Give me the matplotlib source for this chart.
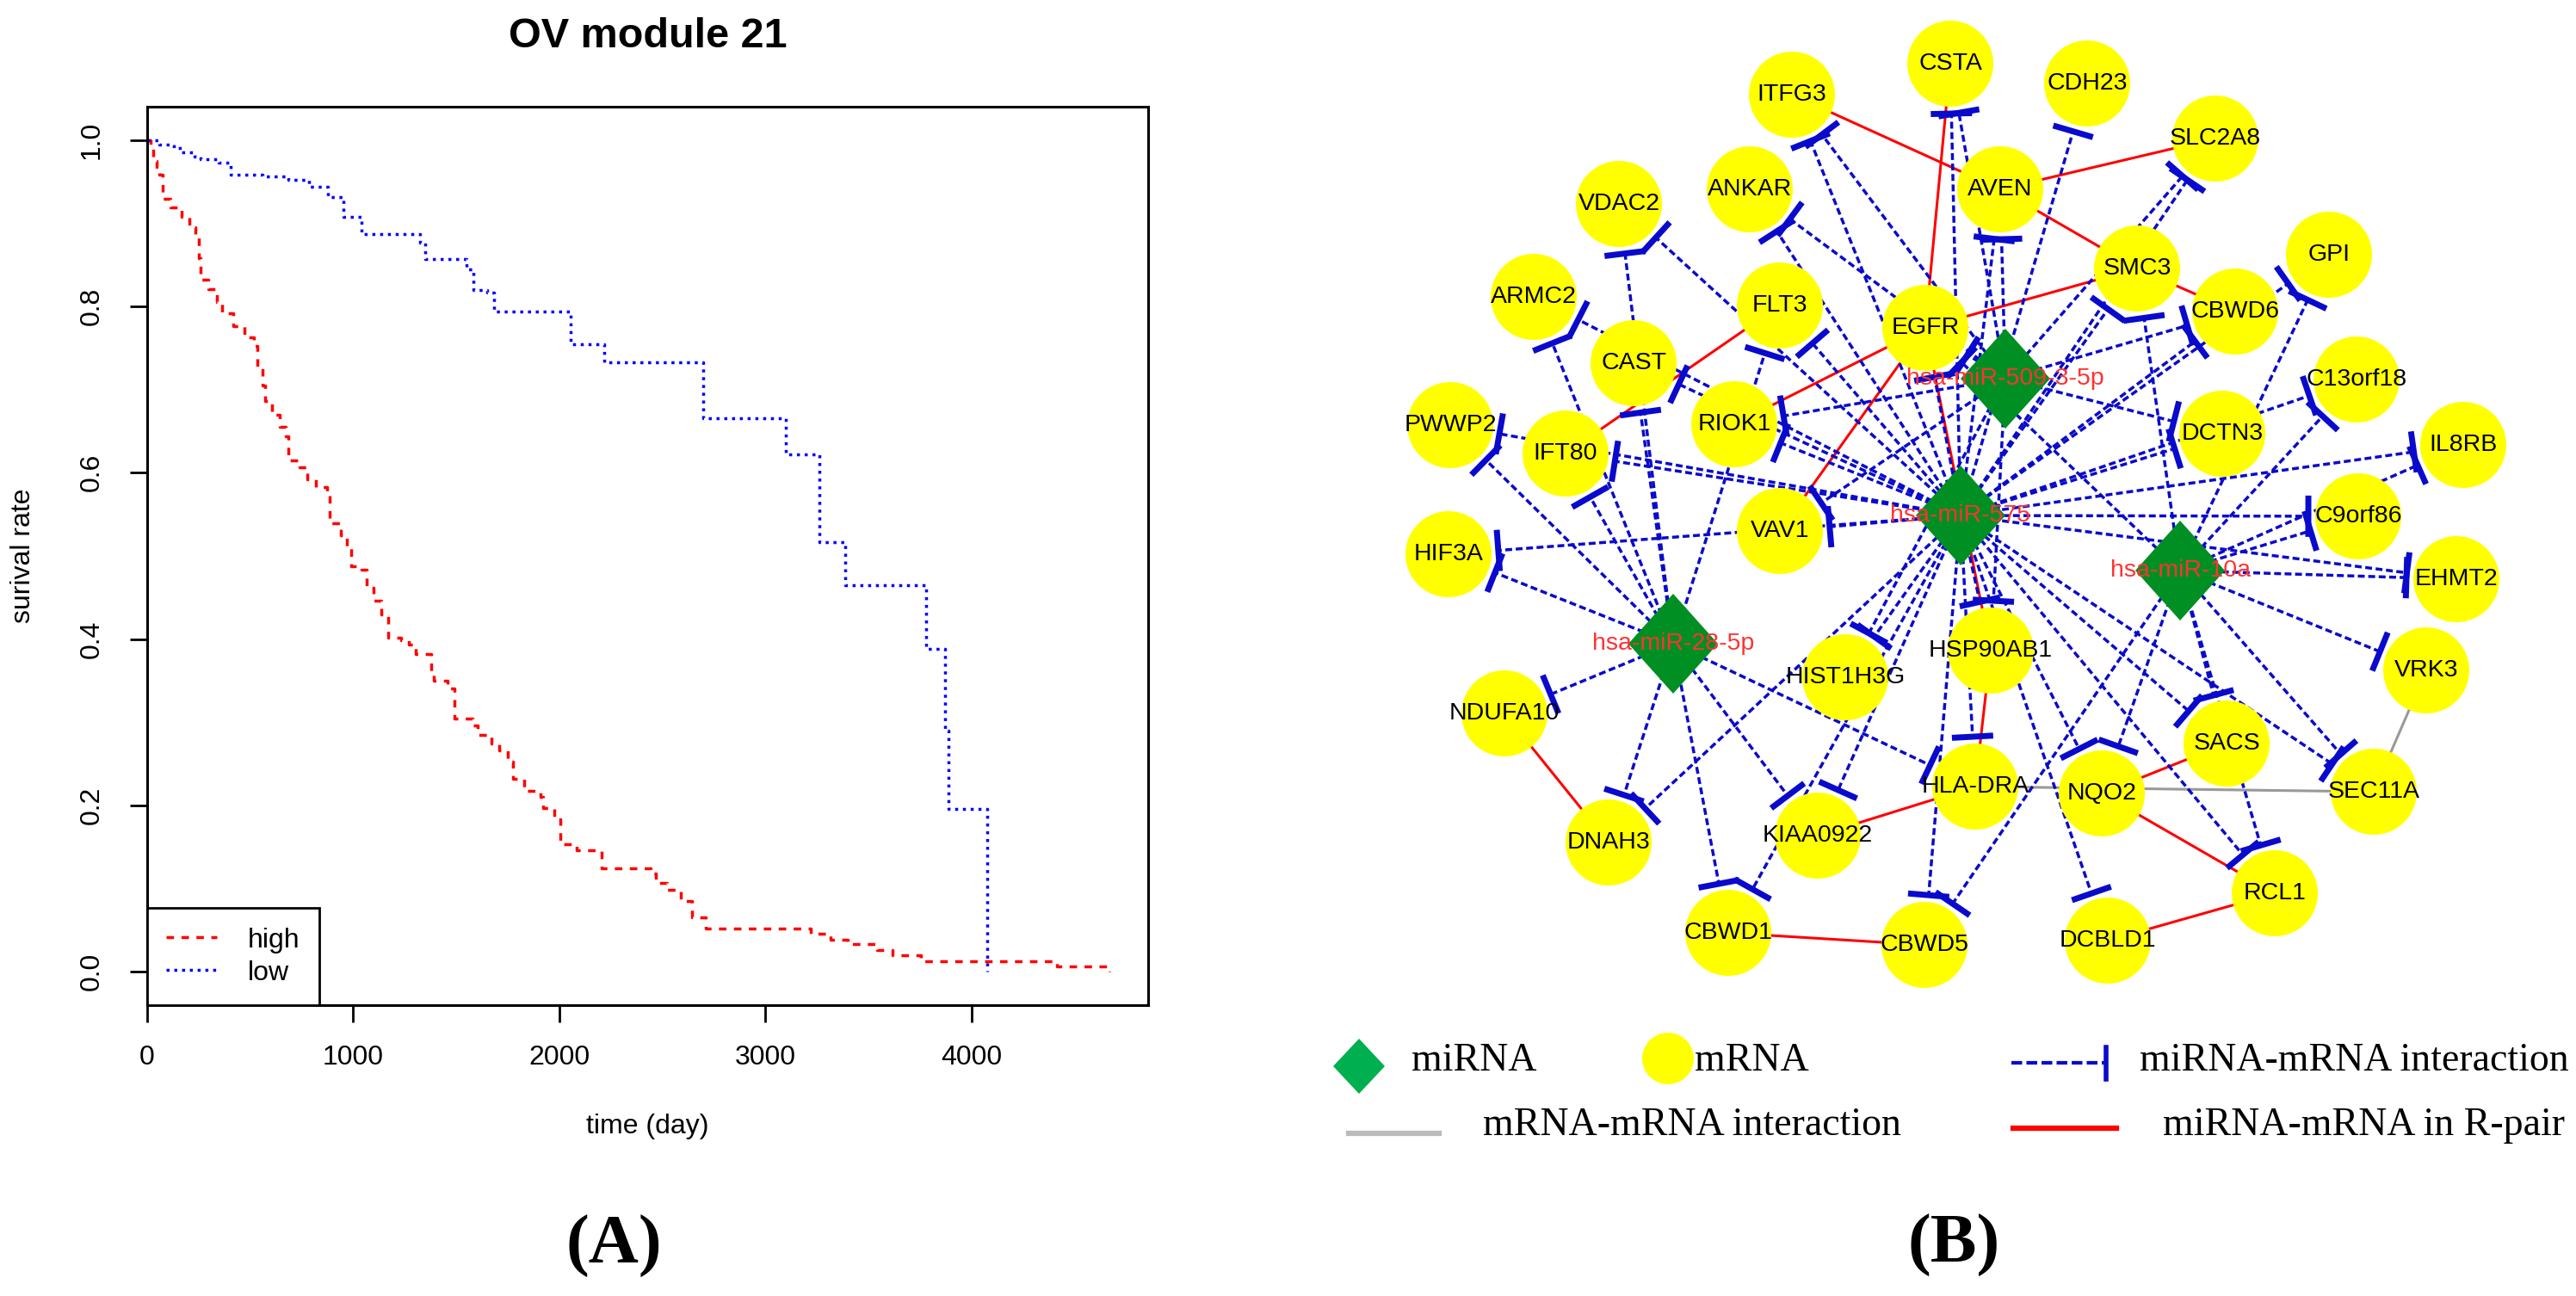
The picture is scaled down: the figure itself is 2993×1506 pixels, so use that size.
import numpy as np
import matplotlib.pyplot as plt
from matplotlib.patches import Circle, Polygon

# ---------------- panel A: survival curves ----------------
high_time = [0, 15, 30, 45, 58, 77, 112, 165, 205, 232, 250, 258, 298, 338, 365,
             418, 471, 516, 533, 560, 572, 604, 644, 671, 684, 738, 778, 818, 871,
             884, 938, 969, 991, 1039, 1066, 1098, 1137, 1169, 1231, 1270, 1305,
             1377, 1390, 1457, 1492, 1577, 1604, 1670, 1710, 1750, 1777, 1830,
             1910, 1923, 1977, 2003, 2083, 2203, 2443, 2470, 2523, 2589, 2643,
             2709, 3220, 3316, 3401, 3541, 3616, 3754, 4414, 4668]
high_surv = [1.0, 0.990, 0.975, 0.965, 0.958, 0.929, 0.919, 0.908, 0.895, 0.885,
             0.858, 0.832, 0.821, 0.805, 0.792, 0.776, 0.763, 0.752, 0.726, 0.705,
             0.686, 0.670, 0.655, 0.644, 0.615, 0.607, 0.592, 0.583, 0.573, 0.539,
             0.525, 0.509, 0.488, 0.483, 0.462, 0.446, 0.430, 0.402, 0.399, 0.393,
             0.382, 0.358, 0.350, 0.341, 0.304, 0.296, 0.285, 0.275, 0.266, 0.253,
             0.232, 0.218, 0.210, 0.197, 0.183, 0.153, 0.146, 0.125, 0.118, 0.107,
             0.099, 0.085, 0.066, 0.052, 0.046, 0.039, 0.033, 0.026, 0.020, 0.013,
             0.0065, 0.0]
low_time = [0, 60, 130, 165, 230, 258, 346, 404, 559, 684, 786, 879, 952, 1039,
            1324, 1350, 1551, 1582, 1651, 1684, 2056, 2216, 2696, 3100, 3260, 3388,
            3779, 3870, 3887, 4075]
low_surv = [1.0, 0.995, 0.990, 0.985, 0.980, 0.977, 0.973, 0.958, 0.956, 0.952,
            0.944, 0.931, 0.908, 0.887, 0.877, 0.857, 0.845, 0.820, 0.817, 0.794,
            0.755, 0.733, 0.666, 0.622, 0.517, 0.465, 0.388, 0.290, 0.196, 0.0]
x_ticks = [0, 1000, 2000, 3000, 4000]
y_ticks = [0.0, 0.2, 0.4, 0.6, 0.8, 1.0]
y_tick_labels = ["0.0", "0.2", "0.4", "0.6", "0.8", "1.0"]

# ---------------- panel B: network (layout) ----------------
mirna_names = ["hsa-miR-575", "hsa-miR-509-3-5p", "hsa-miR-10a", "hsa-miR-28-5p"]
mirna_x = [2278, 2330, 2533, 1944]
mirna_y = [599, 440, 663, 748]

mrna_names = ["CSTA", "CDH23", "ITFG3", "SLC2A8", "AVEN", "ANKAR", "VDAC2", "SMC3",
              "GPI", "ARMC2", "FLT3", "EGFR", "CBWD6", "CAST", "C13orf18", "PWWP2",
              "RIOK1", "DCTN3", "IFT80", "IL8RB", "VAV1", "C9orf86", "HIF3A", "EHMT2",
              "HSP90AB1", "HIST1H3G", "VRK3", "NDUFA10", "SACS", "HLA-DRA", "NQO2",
              "SEC11A", "DNAH3", "KIAA0922", "RCL1", "CBWD1", "CBWD5", "DCBLD1"]
mrna_x = [2266, 2425, 2082, 2574, 2324, 2033, 1881, 2483, 2706, 1782, 2068, 2237,
          2597, 1898, 2738, 1685, 2015, 2582, 1819, 2862, 2068, 2740, 1683, 2854,
          2313, 2144, 2819, 1748, 2587, 2295, 2442, 2758, 1869, 2112, 2643, 2008,
          2236, 2449]
mrna_y = [74, 97, 110, 161, 220, 220, 237, 312, 296, 345, 355, 381, 362, 422, 441,
          494, 493, 504, 527, 517, 617, 600, 644, 673, 756, 787, 779, 829, 864, 914,
          922, 920, 979, 971, 1038, 1084, 1098, 1093]

targets_575 = ["CSTA", "CDH23", "ITFG3", "AVEN", "ANKAR", "VDAC2", "ARMC2", "FLT3",
               "EGFR", "SMC3", "SLC2A8", "CBWD6", "GPI", "C13orf18", "DCTN3", "IL8RB",
               "C9orf86", "EHMT2", "SEC11A", "SACS", "RCL1", "NQO2", "DCBLD1",
               "HLA-DRA", "HSP90AB1", "HIST1H3G", "KIAA0922", "CBWD1", "CBWD5",
               "DNAH3", "HIF3A", "PWWP2", "IFT80", "CAST", "RIOK1", "VAV1"]
targets_509 = ["CSTA", "ITFG3", "AVEN", "ANKAR", "EGFR", "SLC2A8", "CBWD6", "DCTN3",
               "RIOK1", "VAV1", "HSP90AB1", "HIST1H3G"]
targets_10a = ["SMC3", "GPI", "C13orf18", "IL8RB", "C9orf86", "EHMT2", "VRK3",
               "SEC11A", "SACS", "RCL1", "NQO2", "CBWD5", "EGFR"]
targets_28 = ["VDAC2", "ARMC2", "FLT3", "CAST", "PWWP2", "IFT80", "HIF3A", "NDUFA10",
              "DNAH3", "CBWD1", "KIAA0922", "HLA-DRA"]
rpair_edges = [("ITFG3", "AVEN"), ("AVEN", "SLC2A8"), ("AVEN", "SMC3"),
               ("SMC3", "CBWD6"), ("EGFR", "SMC3"), ("CSTA", "EGFR"),
               ("FLT3", "IFT80"), ("RIOK1", "EGFR"), ("VAV1", "EGFR"),
               ("EGFR", "HSP90AB1"), ("HSP90AB1", "HLA-DRA"), ("NDUFA10", "DNAH3"),
               ("KIAA0922", "HLA-DRA"), ("CBWD1", "CBWD5"), ("SACS", "NQO2"),
               ("NQO2", "RCL1"), ("RCL1", "DCBLD1")]
ppi_edges = [("HLA-DRA", "SEC11A"), ("VRK3", "SEC11A")]

plt.rcParams['font.family'] = ['Liberation Sans', 'DejaVu Sans']
BLUE = '#0A0ACC'
SERIF = ['Liberation Serif', 'DejaVu Serif']

fig = plt.figure(figsize=(29.93, 15.06), dpi=100)

# network drawn in figure pixel units
axb = fig.add_axes([0, 0, 1, 1])
axb.set_xlim(0, 2993)
axb.set_ylim(1506, 0)
axb.axis('off')

pos = {n: (x, y) for n, x, y in zip(mrna_names, mrna_x, mrna_y)}
pos.update({n: (x, y) for n, x, y in zip(mirna_names, mirna_x, mirna_y)})
R = 50

for a, b in ppi_edges:
    axb.plot([pos[a][0], pos[b][0]], [pos[a][1], pos[b][1]], color='#999999',
             lw=2.2, zorder=1)
for a, b in rpair_edges:
    axb.plot([pos[a][0], pos[b][0]], [pos[a][1], pos[b][1]], color='#FF0000',
             lw=2.2, zorder=1)

all_targets = [targets_575, targets_509, targets_10a, targets_28]
for mi, tlist in zip(mirna_names, all_targets):
    mx, my = pos[mi]
    for t in tlist:
        tx, ty = pos[t]
        d = np.hypot(mx - tx, my - ty)
        ux, uy = (mx - tx) / d, (my - ty) / d
        bx, by = tx + ux * (R + 8), ty + uy * (R + 8)
        axb.plot([mx, bx], [my, by], color=BLUE, lw=2.5, dashes=(2.3, 1.2), zorder=1)
        px, py = -uy, ux
        axb.plot([bx - px * 24, bx + px * 24], [by - py * 24, by + py * 24],
                 color=BLUE, lw=5, solid_capstyle='butt', zorder=2)

for n in mrna_names:
    axb.add_patch(Circle(pos[n], R, fc='#FFFF00', ec='none', zorder=3))
    axb.text(pos[n][0], pos[n][1], n, ha='center', va='center', fontsize=20.5,
             zorder=6)
for n in mirna_names:
    x, y = pos[n]
    axb.add_patch(Polygon([(x, y - 58), (x + 52, y), (x, y + 58), (x - 52, y)],
                          closed=True, fc='#008F22', ec='none', zorder=4))
    axb.text(x, y, n, ha='center', va='center', fontsize=20.5, color='#FF3333',
             zorder=6)

# legend of the network
axb.add_patch(Polygon([(1579, 1207), (1609, 1239), (1579, 1271), (1549, 1239)],
                      closed=True, fc='#00B050', ec='none'))
axb.text(1640, 1233, "miRNA", ha='left', va='center', fontsize=33, family=SERIF)
axb.add_patch(Circle((1938, 1230), 30, fc='#FFFF00', ec='none'))
axb.text(1969, 1233, "mRNA", ha='left', va='center', fontsize=33, family=SERIF)
axb.plot([2337, 2445], [1235, 1235], color=BLUE, lw=3, dashes=(3, 1.2))
axb.plot([2447, 2447], [1217, 1254], color=BLUE, lw=4)
axb.text(2486, 1233, "miRNA-mRNA interaction", ha='left', va='center', fontsize=33,
         family=SERIF)
axb.plot([1567, 1672], [1317, 1317], color='#BBBBBB', lw=4.5)
axb.text(1723, 1308, "mRNA-mRNA interaction", ha='left', va='center', fontsize=33,
         family=SERIF)
axb.plot([2339, 2459], [1311, 1311], color='#FF0000', lw=4.5)
axb.text(2513, 1308, "miRNA-mRNA in R-pair", ha='left', va='center', fontsize=33,
         family=SERIF)
axb.text(2270, 1447, "(B)", ha='center', va='center', fontsize=58,
         fontweight='bold', family=SERIF)
axb.text(713, 1448, "(A)", ha='center', va='center', fontsize=58,
         fontweight='bold', family=SERIF)

# ---------------- panel A ----------------
W, H = 2993, 1506
ax = fig.add_axes([171 / W, 1 - 1168 / H, (1334 - 171) / W, (1168 - 124) / H])
ax.step(high_time, high_surv, where='post', color='red', lw=2.5,
        dashes=(2.5, 2.5), label='high')
ax.step(low_time, low_surv, where='post', color='blue', lw=2.5,
        dashes=(1, 1.6), label='low')
ax.set_xlim(0, 4857)
ax.set_ylim(-0.04, 1.04)
ax.set_xticks(x_ticks)
ax.set_yticks(y_ticks)
ax.set_yticklabels(y_tick_labels, rotation=90, va='center')
ax.tick_params(length=14.4, width=2, labelsize=23)
ax.tick_params(axis='x', pad=19)
ax.tick_params(axis='y', pad=21)
for s in ax.spines.values():
    s.set_linewidth(2.2)
ax.set_title("OV module 21", fontsize=35, fontweight='bold', pad=50)
ax.set_xlabel("time (day)", fontsize=23, labelpad=36)
ax.set_ylabel("surival rate", fontsize=23, labelpad=36)
leg = ax.legend(loc='lower left', bbox_to_anchor=(0, 0), borderaxespad=0,
                fontsize=23, fancybox=False, edgecolor='black', framealpha=1,
                handlelength=1.85, handletextpad=1.1, borderpad=0.7,
                labelspacing=0.25)
leg.get_frame().set_linewidth(2)

fig.savefig("out.png", dpi=100)
